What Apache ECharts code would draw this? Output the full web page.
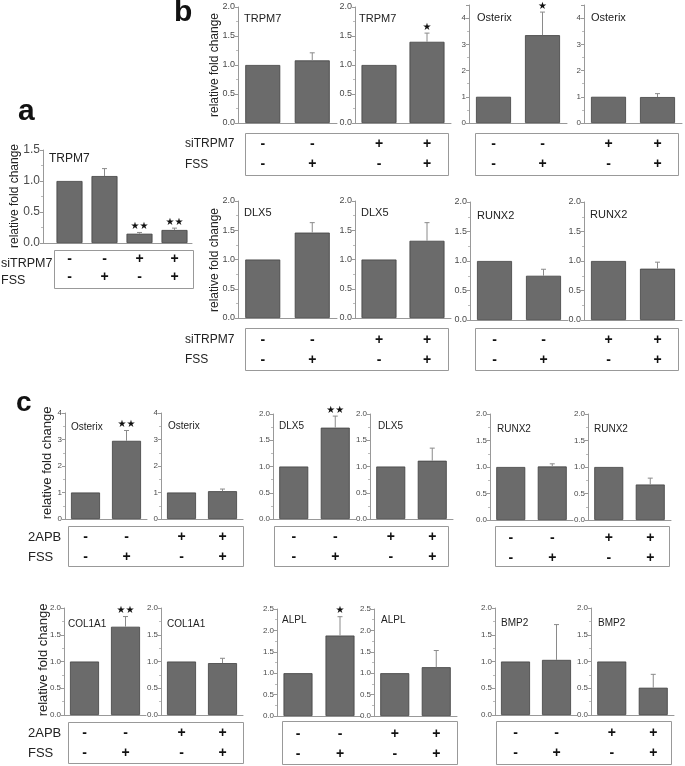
<!DOCTYPE html>
<html><head><meta charset="utf-8">
<script src="https://cdn.jsdelivr.net/npm/echarts@6/dist/echarts.min.js"></script>
<style>html,body{margin:0;padding:0;background:#fff}#c{width:685px;height:766px}</style>
</head><body><div id="c"></div>
<script>
// ---------------- DATA ----------------
const signsSiTRPM7 = ['-', '-', '+', '+'];
const signsFSS     = ['-', '+', '-', '+'];
const signs2APB    = ['-', '-', '+', '+'];

const aGene  = 'TRPM7';
const aMeans = [1.00, 1.08, 0.15, 0.21];
const aErrs  = [0, 0.12, 0.02, 0.03];
const aStars = ['', '', '★★', '★★'];

const bGenes = ['TRPM7', 'TRPM7', 'Osterix', 'Osterix', 'DLX5', 'DLX5', 'RUNX2', 'RUNX2'];
const bMeans = [[1, 1.08], [1, 1.40], [1, 3.35], [1, 0.99], [1, 1.46], [1, 1.32], [1, 0.75], [1, 0.87]];
const bErrs  = [[0, 0.13], [0, 0.15], [0, 0.88], [0, 0.13], [0, 0.17], [0, 0.31], [0, 0.11], [0, 0.11]];
const bStars = [['', ''], ['', '★'], ['', '★'], ['', ''], ['', ''], ['', ''], ['', ''], ['', '']];
const bYMax  = [2, 2, 4.5, 4.5, 2, 2, 2, 2];
const bYStep = [0.5, 0.5, 1, 1, 0.5, 0.5, 0.5, 0.5];

const cGenes = ['Osterix', 'Osterix', 'DLX5', 'DLX5', 'RUNX2', 'RUNX2', 'COL1A1', 'COL1A1', 'ALPL', 'ALPL', 'BMP2', 'BMP2'];
const cMeans = [[1, 2.95], [1, 1.05], [1, 1.74], [1, 1.11], [1, 1.01], [1, 0.67], [1, 1.65], [1, 0.97], [1, 1.88], [1, 1.14], [1, 1.03], [1, 0.51]];
const cErrs  = [[0, 0.39], [0, 0.08], [0, 0.22], [0, 0.24], [0, 0.05], [0, 0.12], [0, 0.19], [0, 0.09], [0, 0.44], [0, 0.39], [0, 0.66], [0, 0.25]];
const cStars = [['', '★★'], ['', ''], ['', '★★'], ['', ''], ['', ''], ['', ''], ['', '★★'], ['', ''], ['', '★'], ['', ''], ['', ''], ['', '']];
const cYMax  = [4, 4, 2, 2, 2, 2, 2, 2, 2.5, 2.5, 2, 2];
const cYStep = [1, 1, 0.5, 0.5, 0.5, 0.5, 0.5, 0.5, 0.5, 0.5, 0.5, 0.5];

const yName = 'relative fold change';

// ---------------- LAYOUT ----------------
const FONT = "'Liberation Sans', Arial, sans-serif";
const bLayout = [
  {l: 238, w: 99, t: 7, b: 123, m: 11, gx: 244, gy: 20},
  {l: 355, w: 96, t: 7, b: 123, m: 11, gx: 359, gy: 20},
  {l: 469, w: 98, t: 5, b: 123, m: 11, gx: 477, gy: 19},
  {l: 584, w: 98, t: 5, b: 123, m: 11, gx: 591, gy: 19},
  {l: 238, w: 99, t: 201, b: 318, m: 12, gx: 244, gy: 214},
  {l: 355, w: 96, t: 201, b: 318, m: 12, gx: 361, gy: 214},
  {l: 470, w: 98, t: 202, b: 320, m: 10, gx: 477, gy: 217},
  {l: 584, w: 98, t: 202, b: 320, m: 10, gx: 590, gy: 216}
];
const cLayout = [
  {l: 65,  w: 82, t: 413, b: 519, gx: 71,  gy: 428},
  {l: 161, w: 82, t: 413, b: 519, gx: 168, gy: 427},
  {l: 273, w: 83, t: 414, b: 519, gx: 279, gy: 427},
  {l: 370, w: 83, t: 414, b: 519, gx: 378, gy: 427},
  {l: 490, w: 83, t: 414, b: 520, gx: 497, gy: 430},
  {l: 588, w: 83, t: 414, b: 520, gx: 594, gy: 430},
  {l: 64,  w: 82, t: 608, b: 715, gx: 68,  gy: 625},
  {l: 161, w: 82, t: 608, b: 715, gx: 167, gy: 625},
  {l: 277, w: 84, t: 609, b: 716, gx: 282, gy: 621},
  {l: 374, w: 83, t: 609, b: 716, gx: 381, gy: 621},
  {l: 495, w: 82, t: 608, b: 715, gx: 501, gy: 624},
  {l: 591, w: 83, t: 608, b: 715, gx: 598, gy: 624}
];

const grids = [], xAxes = [], yAxes = [], series = [], graphics = [];

function makeErr(stars, starFont) {
  return function (params, api) {
    const i = api.value(0), m = api.value(1), e = api.value(2);
    const base = api.coord([i, m]);
    const top = api.coord([i, m + e]);
    const ch = [];
    if (e > 0) {
      ch.push({type: 'line', shape: {x1: base[0], y1: base[1], x2: top[0], y2: top[1]}, style: {stroke: '#8a8a8a', lineWidth: 1}});
      ch.push({type: 'line', shape: {x1: top[0] - 2.5, y1: top[1], x2: top[0] + 2.5, y2: top[1]}, style: {stroke: '#8a8a8a', lineWidth: 1}});
    }
    const s = stars[params.dataIndex];
    if (s) ch.push({type: 'text', style: {text: s, x: top[0], y: top[1] - 1, align: 'center', verticalAlign: 'bottom', fontSize: starFont, fill: '#111', fontFamily: 'DejaVu Sans'}});
    return {type: 'group', children: ch};
  };
}

function addPlot(p) {
  const g = grids.length;
  grids.push({left: p.l, top: p.t, width: p.w, height: p.b - p.t});
  xAxes.push({
    type: 'category', gridIndex: g, data: p.cats,
    axisLine: {show: true, lineStyle: {color: '#999', width: 1}},
    axisTick: {show: false},
    axisLabel: {interval: 0, margin: p.m, lineHeight: p.lineH, fontSize: 14, fontWeight: 'bold', color: '#111', fontFamily: FONT}
  });
  yAxes.push({
    type: 'value', gridIndex: g, min: 0, max: p.max, interval: p.step, offset: p.yOffset || 0,
    axisLine: {show: true, lineStyle: {color: '#999'}},
    axisTick: {show: true, length: 3, lineStyle: {color: '#999'}},
    minorTick: {show: true, splitNumber: 2, length: 2, lineStyle: {color: '#bbb'}},
    splitLine: {show: false},
    axisLabel: {fontSize: p.tickFont, color: '#4a4a4a', margin: 3, fontFamily: FONT, showMaxLabel: !p.hideMax,
      formatter: v => (p.step < 1 ? v.toFixed(1) : String(v))}
  });
  series.push({type: 'bar', xAxisIndex: g, yAxisIndex: g, data: p.means, barWidth: p.barW,
    itemStyle: {color: '#6b6b6b', borderColor: '#404040', borderWidth: 0.8}, silent: true, animation: false});
  series.push({type: 'custom', xAxisIndex: g, yAxisIndex: g, data: p.means.map((m, i) => [i, m, p.errs[i]]),
    encode: {x: 0, y: 1}, renderItem: makeErr(p.stars, p.starFont), z: 5, silent: true, animation: false});
  graphics.push({type: 'text', left: p.gx, top: p.gy - p.geneFont * 0.6, style: {text: p.gene, fontSize: p.geneFont, fill: '#222', fontFamily: FONT}});
}

// panel a
addPlot({l: 52, w: 140, t: 150, b: 243, yOffset: 9, m: 7, lineH: 18,
  cats: signsSiTRPM7.map((s, i) => s + '\n' + signsFSS[i]),
  means: aMeans, errs: aErrs, stars: aStars, max: 1.5, step: 0.5, barW: 26, tickFont: 12, starFont: 10,
  gene: aGene, gx: 49, gy: 160, geneFont: 12});

// panel b
bGenes.forEach((gene, k) => {
  const L = bLayout[k], pr = k % 2;
  addPlot({l: L.l, w: L.w, t: L.t, b: L.b, m: L.m, lineH: 20,
    cats: [0, 1].map(j => signsSiTRPM7[2 * pr + j] + '\n' + signsFSS[2 * pr + j]),
    means: bMeans[k], errs: bErrs[k], stars: bStars[k], max: bYMax[k], step: bYStep[k], hideMax: bYMax[k] === 4.5,
    barW: 35, tickFont: bYStep[k] < 1 ? 9 : 8, starFont: 10, gene, gx: L.gx, gy: L.gy, geneFont: 11});
});

// panel c
cGenes.forEach((gene, k) => {
  const L = cLayout[k], pr = k % 2;
  addPlot({l: L.l, w: L.w, t: L.t, b: L.b, m: 8, lineH: 20,
    cats: [0, 1].map(j => signs2APB[2 * pr + j] + '\n' + signsFSS[2 * pr + j]),
    means: cMeans[k], errs: cErrs[k], stars: cStars[k], max: cYMax[k], step: cYStep[k],
    barW: 29, tickFont: 8, starFont: 10, gene, gx: L.gx, gy: L.gy, geneFont: 10});
});

// decorations: boxes, row labels, y names, panel letters
const boxes = [
  [54, 250, 193, 288],
  [245, 133, 448, 175], [475, 133, 678, 175],
  [245, 328, 448, 370], [475, 328, 678, 370],
  [68, 526, 243, 566], [274, 526, 448, 566], [495, 526, 669, 566],
  [68, 722, 243, 763], [282, 721, 457, 764], [496, 721, 671, 764]
];
boxes.forEach(b => graphics.push({type: 'rect', shape: {x: b[0] + 0.5, y: b[1] + 0.5, width: b[2] - b[0], height: b[3] - b[1]},
  style: {fill: 'none', stroke: '#999', lineWidth: 1}}));
graphics.push({type: 'line', shape: {x1: 43, y1: 243.5, x2: 53, y2: 243.5}, style: {stroke: '#999', lineWidth: 1}});

const rowLabels = [
  ['siTRPM7', 1, 264, 12.5], ['FSS', 1, 281, 12.5],
  ['siTRPM7', 185, 144, 12], ['FSS', 185, 165, 12],
  ['siTRPM7', 185, 340, 12], ['FSS', 185, 360, 12],
  ['2APB', 28, 537, 13], ['FSS', 28, 557, 13],
  ['2APB', 28, 733, 13], ['FSS', 28, 753, 13]
];
rowLabels.forEach(r => graphics.push({type: 'text', x: r[1], y: r[2],
  style: {text: r[0], fontSize: r[3], fill: '#222', fontFamily: FONT, align: 'left', verticalAlign: 'middle'}}));

const yNames = [[15, 196, 12], [215, 65, 12], [215, 260, 12], [47, 463, 13], [43, 660, 13]];
yNames.forEach(n => graphics.push({type: 'text', x: n[0], y: n[1], rotation: Math.PI / 2,
  style: {text: yName, fontSize: n[2], fill: '#222', fontFamily: FONT, align: 'center', verticalAlign: 'middle'}}));

[['a', 18, 112, 30], ['b', 174, 13, 30], ['c', 16, 403, 28]].forEach(l => graphics.push({type: 'text', x: l[1], y: l[2],
  style: {text: l[0], fontSize: l[3], fontWeight: 'bold', fill: '#111', fontFamily: FONT, align: 'left', verticalAlign: 'middle'}}));

const chart = echarts.init(document.getElementById('c'));
chart.setOption({
  animation: false,
  backgroundColor: '#fff',
  textStyle: {fontFamily: FONT},
  grid: grids, xAxis: xAxes, yAxis: yAxes, series: series,
  graphic: {elements: graphics}
});
</script>
</body></html>
